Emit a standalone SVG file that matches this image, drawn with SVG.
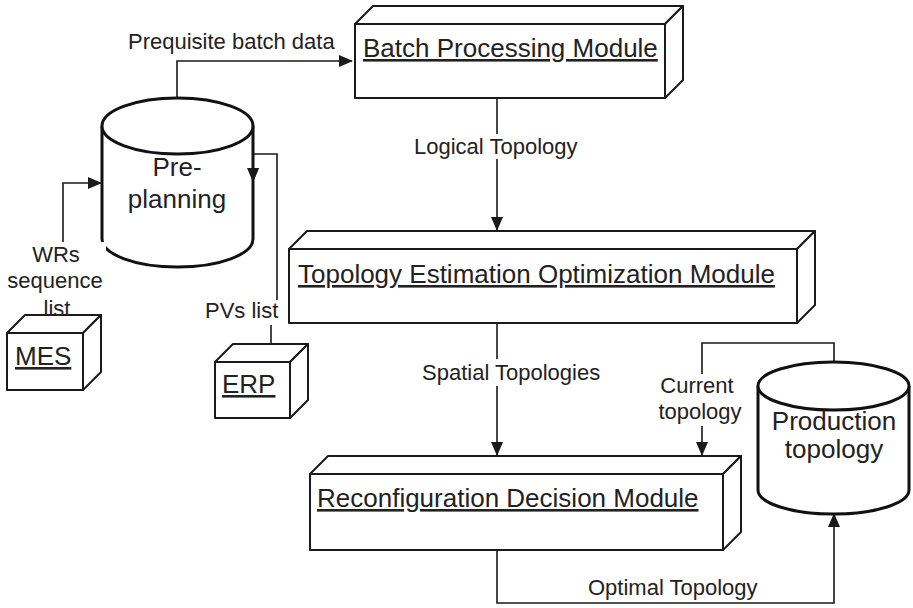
<svg xmlns="http://www.w3.org/2000/svg" width="913" height="608" viewBox="0 0 913 608">
  <style>
    .box { fill: #ffffff; stroke: #1a1a1a; stroke-width: 2; stroke-linejoin: round; }
    .cyl { fill: #ffffff; stroke: #111111; stroke-width: 3; }
    .edge { fill: none; stroke: #1a1a1a; stroke-width: 1.6; }
    .title { font-family: "Liberation Sans", Arial, sans-serif; font-size: 26px; fill: #222222; text-decoration: underline; }
    .cyltext { font-family: "Liberation Sans", Arial, sans-serif; font-size: 26px; fill: #222222; text-anchor: middle; }
    .label { font-family: "Liberation Sans", Arial, sans-serif; font-size: 22px; fill: #222222; }
    .bg { fill: #ffffff; }
  </style>
  <defs>
    <marker id="arrow" markerUnits="userSpaceOnUse" markerWidth="14" markerHeight="12" viewBox="0 0 14 12" refX="13" refY="6" orient="auto">
      <path d="M0,0 L14,6 L0,12 Z" fill="#1a1a1a"/>
    </marker>
  </defs>

  <rect width="913" height="608" fill="#ffffff"/>

  <!-- Connectors -->
  <g id="connectors">
    <path class="edge" d="M177,98 V61 H352" marker-end="url(#arrow)"/>
    <path class="edge" d="M497,98 V230" marker-end="url(#arrow)"/>
    <path class="edge" d="M497,323 V455" marker-end="url(#arrow)"/>
    <path class="edge" d="M834,362 V343 H702 V455" marker-end="url(#arrow)"/>
    <path class="edge" d="M497,550 V603 H834 V514" marker-end="url(#arrow)"/>
    <path class="edge" d="M63,315 V183 H101" marker-end="url(#arrow)"/>
    <path class="edge" d="M271,343 V312 H277 V154 H253 V181" marker-end="url(#arrow)"/>
  </g>

  <!-- Pre-planning store -->
  <g id="preplanning">
    <path class="cyl" d="M102,126 V239 A75.5,28 0 0 0 253,239 V126"/>
    <ellipse class="cyl" cx="177.5" cy="126" rx="75.5" ry="28"/>
    <text class="cyltext" x="177" y="176">Pre-</text>
    <text class="cyltext" x="177" y="208">planning</text>
  </g>
  <!-- re-draw the PVs arrow tail over the cylinder wall -->
  <path class="edge" d="M253,154 V181" marker-end="url(#arrow)"/>

  <!-- Production topology store -->
  <g id="production">
    <path class="cyl" d="M758,386 V490 A75.5,24 0 0 0 909,490 V386"/>
    <ellipse class="cyl" cx="833.5" cy="386" rx="75.5" ry="24"/>
    <text class="cyltext" x="834" y="430">Production</text>
    <text class="cyltext" x="834" y="458">topology</text>
  </g>

  <!-- Batch Processing Module -->
  <g id="batch">
    <rect class="box" x="355" y="24" width="310" height="74"/>
    <path class="box" d="M355,24 L373,6 H683 L665,24 Z"/>
    <path class="box" d="M665,24 L683,6 V80 L665,98 Z"/>
    <text class="title" x="363" y="57">Batch Processing Module</text>
  </g>

  <!-- Topology Estimation Optimization Module -->
  <g id="topology">
    <rect class="box" x="289" y="249" width="508" height="74"/>
    <path class="box" d="M289,249 L307,231 H815 L797,249 Z"/>
    <path class="box" d="M797,249 L815,231 V305 L797,323 Z"/>
    <text class="title" x="298" y="283">Topology Estimation Optimization Module</text>
  </g>

  <!-- Reconfiguration Decision Module -->
  <g id="reconfig">
    <rect class="box" x="310" y="474" width="413" height="76"/>
    <path class="box" d="M310,474 L328,456 H741 L723,474 Z"/>
    <path class="box" d="M723,474 L741,456 V532 L723,550 Z"/>
    <text class="title" x="317" y="507">Reconfiguration Decision Module</text>
  </g>

  <!-- MES -->
  <g id="mes">
    <rect class="box" x="7" y="333" width="76" height="57"/>
    <path class="box" d="M7,333 L25,315 H101 L83,333 Z"/>
    <path class="box" d="M83,333 L101,315 V372 L83,390 Z"/>
    <text class="title" x="15" y="365">MES</text>
  </g>

  <!-- ERP -->
  <g id="erp">
    <rect class="box" x="215" y="362" width="75" height="56"/>
    <path class="box" d="M215,362 L233,344 H308 L290,362 Z"/>
    <path class="box" d="M290,362 L308,344 V400 L290,418 Z"/>
    <text class="title" x="222" y="393">ERP</text>
  </g>

  <!-- Connector labels -->
  <g id="labels">
    <text class="label" x="128" y="49">Prequisite batch data</text>

    <rect class="bg" x="412" y="134" width="172" height="25"/>
    <text class="label" x="414" y="154">Logical Topology</text>

    <rect class="bg" x="420" y="359" width="185" height="27"/>
    <text class="label" x="422" y="380">Spatial Topologies</text>

    <rect class="bg" x="656" y="374" width="90" height="52"/>
    <text class="label" x="697" y="393" text-anchor="middle">Current</text>
    <text class="label" x="700" y="419" text-anchor="middle">topology</text>

    <text class="label" x="588" y="595">Optimal Topology</text>

    <rect class="bg" x="6" y="242" width="100" height="58"/>
    <rect class="bg" x="42" y="300" width="30" height="14"/>
    <text class="label" x="56" y="262" text-anchor="middle">WRs</text>
    <text class="label" x="55" y="288" text-anchor="middle">sequence</text>
    <text class="label" x="57" y="316" text-anchor="middle">list</text>

    <rect class="bg" x="203" y="300" width="78" height="25"/>
    <text class="label" x="205" y="318">PVs list</text>
  </g>
</svg>
